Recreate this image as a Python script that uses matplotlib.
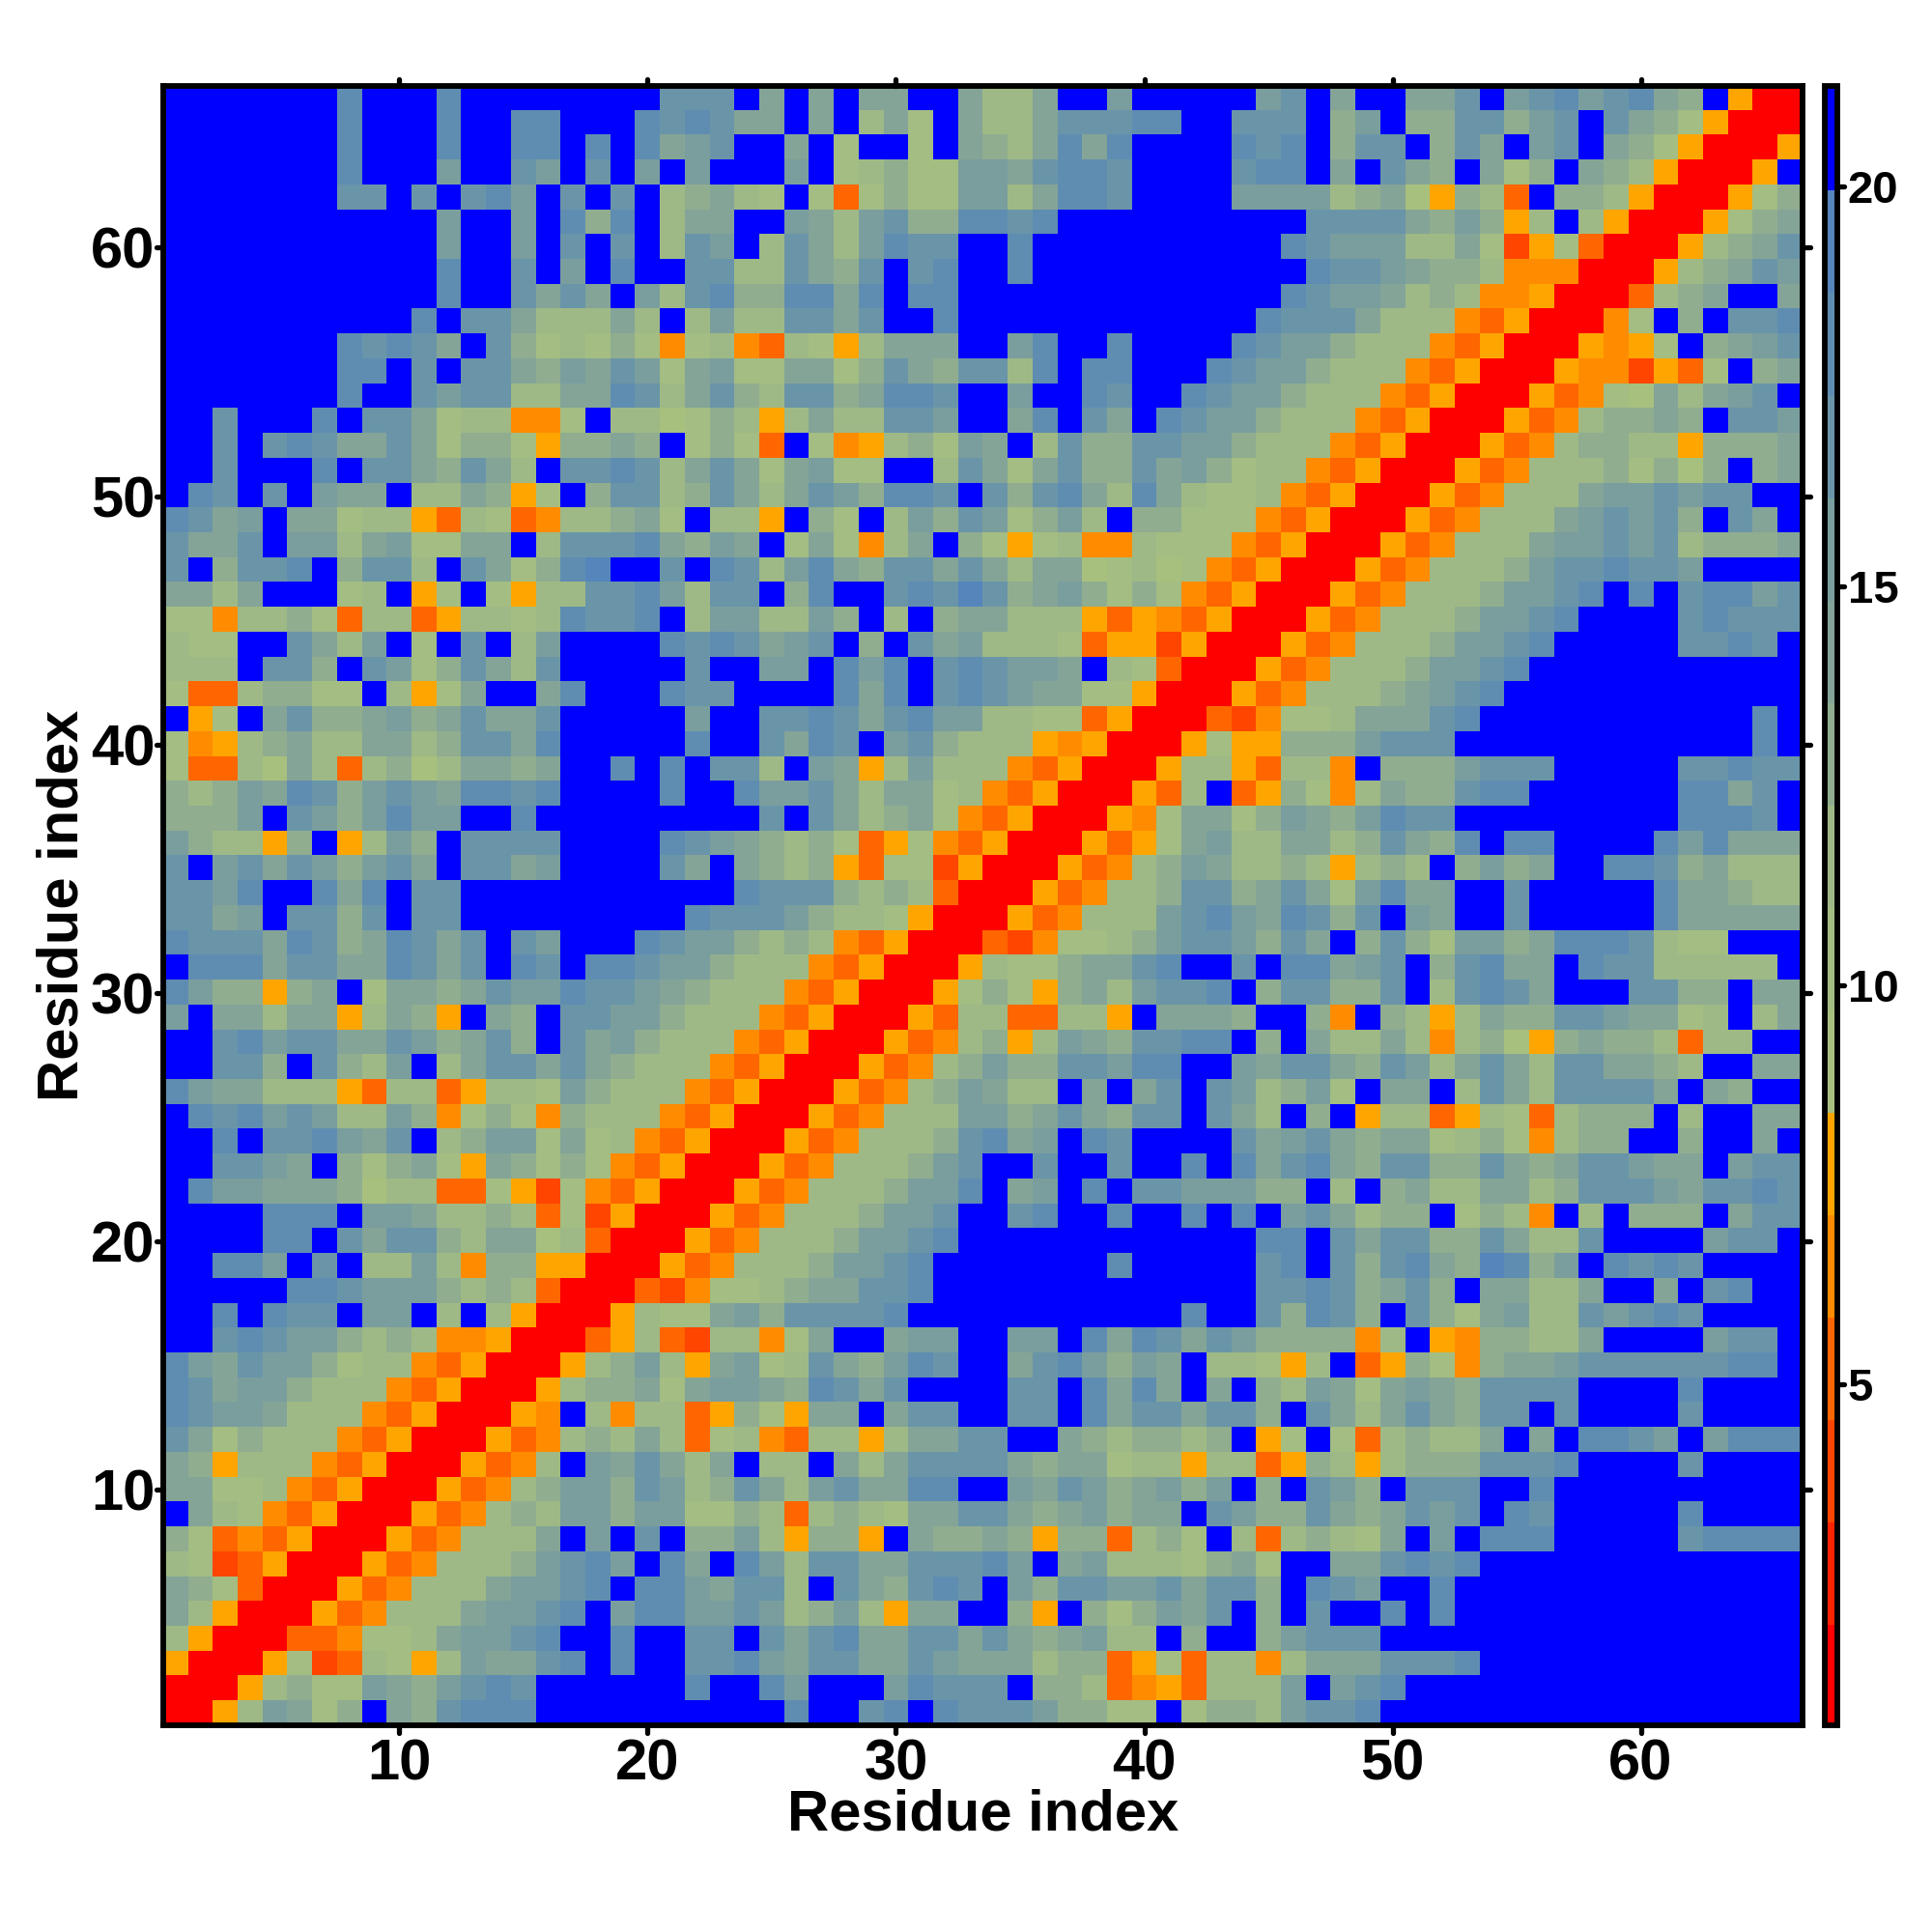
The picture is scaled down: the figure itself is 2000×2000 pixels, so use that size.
import numpy as np
import matplotlib
matplotlib.use("Agg")
import matplotlib.pyplot as plt
from matplotlib.colors import ListedColormap, BoundaryNorm
from matplotlib.markers import MarkerStyle, TICKLEFT, TICKRIGHT, TICKUP, TICKDOWN

plt.rcParams['font.family'] = ['Liberation Sans', 'DejaVu Sans']
plt.rcParams['font.weight'] = 'bold'

# contour level of every cell as one hex digit, 0 = closest, f = farthest
# each row has residues 1-22, 23-44, 45-66, the top row of the map comes first
rows_66_45 = [
    "fffffffdfffdffffffffcc cfafafaaffa88affbfffff bcfaffaacfbcdbcda9f500",
    "fffffffdfffdffddfffdcd caafaf8a7fa88acccddffc ccf9bf99cc9bcfca975000",
    "fffffffdfffdffddfdfdab cffaf7ff7fa98adadffffd cdf9ccf9cafbcfa9750005",
    "fffffffdfffbffcbfcfbfb fffbf78977bbacddcffffc ddfafca9fa79fa9850005f",
    "fffffffccfcfcdbfcfcf89 a87f737977bb8addcffffb bbb89a65983f9985000579",
    "fffffffffffbffbfd9df8a affba8bc99ddcdffffffff ffcccca9b958f85000579a",
    "fffffffffffbffbfcfcf8c bf8ca8bdccffdfffffffff fdcbbb88a72573000589ac",
    "fffffffffffdffcfbfdffc c88ca9cfcdffdfffffffff ffdccba998444000589acb",
    "fffffffffffdffcacafb8c d99ddadfddffffffffffff fdcbba898445000389affa",
    "ffffffffffdfcca888a8f8 b88ccacffdffffffffffff dccca88843500047f9fccd",
    "fffffffdcdcafc97879747 8438758aaaffbdffdffffd cbb98884350005457f9abc",
    "fffffffddfcfcca9bacb7a b77aa79ca9cc8dfddfffdc bb98884350005442537f9a",
    "fffffffdffcbcc88aadc8a c98cc9addcffbffdcffdcb b988843500053476a8abcf",
    "ffcfffdfcca788447f8867 9858a88ccbffadfcafdcbb 9888435000534899a9fccb",
    "ffcfcdcaaca7997599a9f7 973f745897baf8c99ccbb9 888435000534899885999a",
    "ffcfffdfcca9ca8fccdc8a ca7ab77ff8ca7ac99cab97 8843500053488897969f9a",
    "fdcfcfbaaf88a957f9cc89 ca8acb9ddcfc9cda8da877 8435000534888abbcbccff",
    "dcabfaa788538734889a7f 885f97f8b9cb79b8f99777 435000534888abcbc9fcaf",
    "caacfbb8ab77aaf8cccda9 baf7a748af975784487774 35000534888abbcbc8999a",
    "cf9ccdf9cc8fca79deffcf dc8bda9ccaca8aa6786743 50005348889bccdccbffff",
    "aa8afff78f57f7588ccdb8 ccf9dffcdcec9ab9797435 0005348889bbcdfdfcddbc",
    "7748897388358878dccdf8 bb88b9f8f9aa8885354350 005348889bbcdffffcdccc",
]
rows_44_23 = [
    "877ffca8bf7fcf8bffffdc dcabcf9fcab88873552500 05348889bbcdfffffccdcf",
    "888fcc9fcb79ca8cfffffc ffbbfdbdfcdcbbaf873000 5348889bbcdfffffffffff",
    "73389977f857affadfffdc cffffdadfcdcbaa7750005 348889abcdffffffffffff",
    "f57fac99ab9acaacfffffb ffccdcacdbb88773500032 4778aaacdfffffffffffdf",
    "74589a88aa89ccadfffffd ffcadcfbc9888545000575 5999bcccffffffffffffdf",
    "73386a838968aa9affdfdf cc8fba58b8884350005885 3884f999bcccfffffccdcc",
    "989badc9bcbaddcdffffdf fdbbca8aa78435000538f3 59748a99cddffffffddacf",
    "999bfcb9bdbbffdfffffff ffcfca89a7435000547aa7 9ba9bdccfffffffffdddcf",
    "b98859f58b9fccccffffdc ba98973574350005357ab8 8aa89ca9dfddffffdbdaaa",
    "cfbcacb9bcafccabffffca fa98953772500053489ba8 8985898f9b9affddc9a888",
    "ccbdffdadfccffffffffff fdccc98983000534889cc9 aca7bdaaffcfffffdaa988",
    "ccabfcc9cfccfffffffffd cccb98875000534888bcdb adc9cfbaffcfffffdaaaaa",
    "dcccadc9adcacfcbfffdcb b98984350003247789bccb 9caf9c97bb9adddc877fff",
    "fdddaccaadcacfdcfddcbb 988843500058779aacdffc fddabcf9cdaafdcc88888f",
    "db9959af7aa9acbbdccba9 888435000579759a8bccdf 9cc99cf8cdcafffcc99faa",
    "bfaa8aa58a95fa9fccbb98 88435000538833885faaa9 ff94f9858a99ccbaa78f8a",
    "ffcdbccaacb9ac9fcab988 84350005348958ba9ccddf 9fa88a8489659a998388ff",
    "ffcc9fc98bf8accaca9888 43500053489b99ccbddffb acca9cb8aca8ccaa98ffaa",
    "dbaa888538835887b98884 3500053489ba88fafacfcb 89b7faaf8ca8ccccafa9ff",
    "fdcdbcb88b947974988843 5000534888bb9aca9ccfca 8f9f588358738999f8ffaa",
    "ffdfccdbacf89bb7a78435 0005348889cdabfdcffffc abca9aa78974899ff9ffaf",
    "ffccbaf979a75a97974350 005348889bcffcffcffdfd acda9cc99ca9accbaafbcc",
]
rows_22_1 = [
    "fdbbaaa968833752743500 05348889bbdfabfdfccbbb 99f8f9a88aa89cccbaccdc",
    "ffffdddfbba88983725000 5348889bbcffcdffdffdfd fbca899f7984f8f999facc",
    "ffffddfcacc98aa6830005 348889bbcdffffffffffff ddfcacc99ca88cffffbccf",
    "ffddbfcf88b84995500053 48889bbcdfffffffdfffff cdfc9cda9ed9bfdcdcffff",
    "fffffddcbbb98983000324 7789aaccdfffffffffffff ccdc9ac9faa88affafcdff",
    "ffdfdccfbbf8f850005877 ab9ccccdfffffffffffdff c9dc9fc97ab88cbcdcffff",
    "ffcdcbb989844500035832 8847affabbffbbfdadcacb 999948f549988affffbccf",
    "dbacbb9788435000589b85 ab78ca9bdcffacdb9baf88 758f359749aabccccccddf",
    "dcabb98884350005899a7a bba9dcacffffccfdadafaf 98ba7aba9ccccffffdffff",
    "dcbba88843500054f84883 5975aafaccffccfdaccacc 9fca8aca9ccfcffffcffff",
    "ca79888435000534898a83 78438858aaccffa989989f 57f738988afafddcbfbddd",
    "a958884350005348fbaca8 af88fa8acccca9aa788588 359858999cccdffffcffff",
    "aa77843500053489bb9cb8 9ca8bcaaddffbacb9ab9bf 9fcb9fcccffdffffffffff",
    "fa87435000534898bb9bb7 79838987aacca9ab9aafcb 99ca9acbcfdcfffffdffff",
    "973435000534888afbfcf9 9b85995fa99a95993897f8 38987afbfdddfffffcdddd",
    "872350005348889bcdbfda fdb8ccaacccdbfab88879a 7ffaacdcdfffffffffffff",
    "a973000534888abbcdfddb acc8fca9cdcfb9ccbbcacc 9fdcbffdffffffffffffff",
    "a85000534888abbcdfbddb bcb89b85aaff95f979bacf 9fcffdfdffffffffffffff",
    "85000334778abbcdffdffc cfcacdaaccaca9ab88f9ff 9bcccfffffffffffffffff",
    "500057238758baacdfdffc cdbaccaacbaaa899357388 48aaacccdfffffffffffff",
    "00058977ba9bcdcffffffd ffdbfffbdcccf998345388 8bfbcdffffffffffffffff",
    "0058ba79fa9cdddfffffff fffdffcdfdcccb9977f799 8bccdfffffffffffffffff",
]

level_colors = ['#ff0000', '#ff2300', '#ff4500', '#ff6600', '#ff8c00', '#ffa500',
                '#a8c07e', '#a3bd82', '#9eb986', '#90ad8f', '#84a497', '#7a9e9e',
                '#6a95a8', '#5f8db1', '#5585bb', '#0000ff']

dist_min = 0.73
dist_step = 1.283

ticks_map = [10, 20, 30, 40, 50, 60]
ticks_bar = [5, 10, 15, 20]
axis_label = "Residue index"


def round_ticks(axis_obj, first, second):
    # the reference has ticks with round ends
    for t in axis_obj.get_major_ticks():
        t.tick1line.set_marker(MarkerStyle(first, capstyle='round'))
        t.tick2line.set_marker(MarkerStyle(second, capstyle='round'))


all_rows = [r.replace(" ", "") for r in rows_66_45 + rows_44_23 + rows_22_1]
for i, r in enumerate(all_rows):
    assert len(r) == 66, (i, len(r))
levels = np.array([[int(ch, 16) for ch in r] for r in all_rows])
dist = dist_min + (levels + 0.5) * dist_step

edges = dist_min + dist_step * np.arange(17)
cmap = ListedColormap(level_colors)
norm = BoundaryNorm(edges, 16)

fig = plt.figure(figsize=(10, 10), dpi=200)
W = 2000.0
ax = fig.add_axes([169.3 / W, 1 - 1786.4 / W, 1696.3 / W, 1697.1 / W])
im = ax.imshow(dist, cmap=cmap, norm=norm, origin='upper', aspect='auto',
               interpolation='nearest', extent=[0.5, 66.5, 0.5, 66.5])

ax.set_xticks(ticks_map)
ax.set_yticks(ticks_map)
ax.tick_params(axis='both', which='major', top=True, right=True, direction='out',
               length=2.7, width=1.9, labelsize=21.5)
ax.tick_params(axis='x', pad=2)
ax.tick_params(axis='y', pad=0.5)
round_ticks(ax.xaxis, TICKDOWN, TICKUP)
round_ticks(ax.yaxis, TICKLEFT, TICKRIGHT)
for s in ax.spines.values():
    s.set_linewidth(2.1)

ax.set_xlabel(axis_label, fontsize=21.5, fontweight='bold', labelpad=-1)
ax.set_ylabel(axis_label, fontsize=21.5, fontweight='bold', labelpad=0.5)

cax = fig.add_axes([1888.7 / W, 1 - 1786.4 / W, 12.8 / W, 1697.1 / W])
cb = fig.colorbar(im, cax=cax, ticks=ticks_bar, spacing='proportional')
cb.solids.set_edgecolor('face')
cb.outline.set_linewidth(2.1)
cb.ax.tick_params(length=2.5, width=1.9, labelsize=17, pad=1.5)
cb.ax.minorticks_off()
round_ticks(cb.ax.yaxis, TICKLEFT, TICKRIGHT)

fig.savefig("out.png", dpi=200)
